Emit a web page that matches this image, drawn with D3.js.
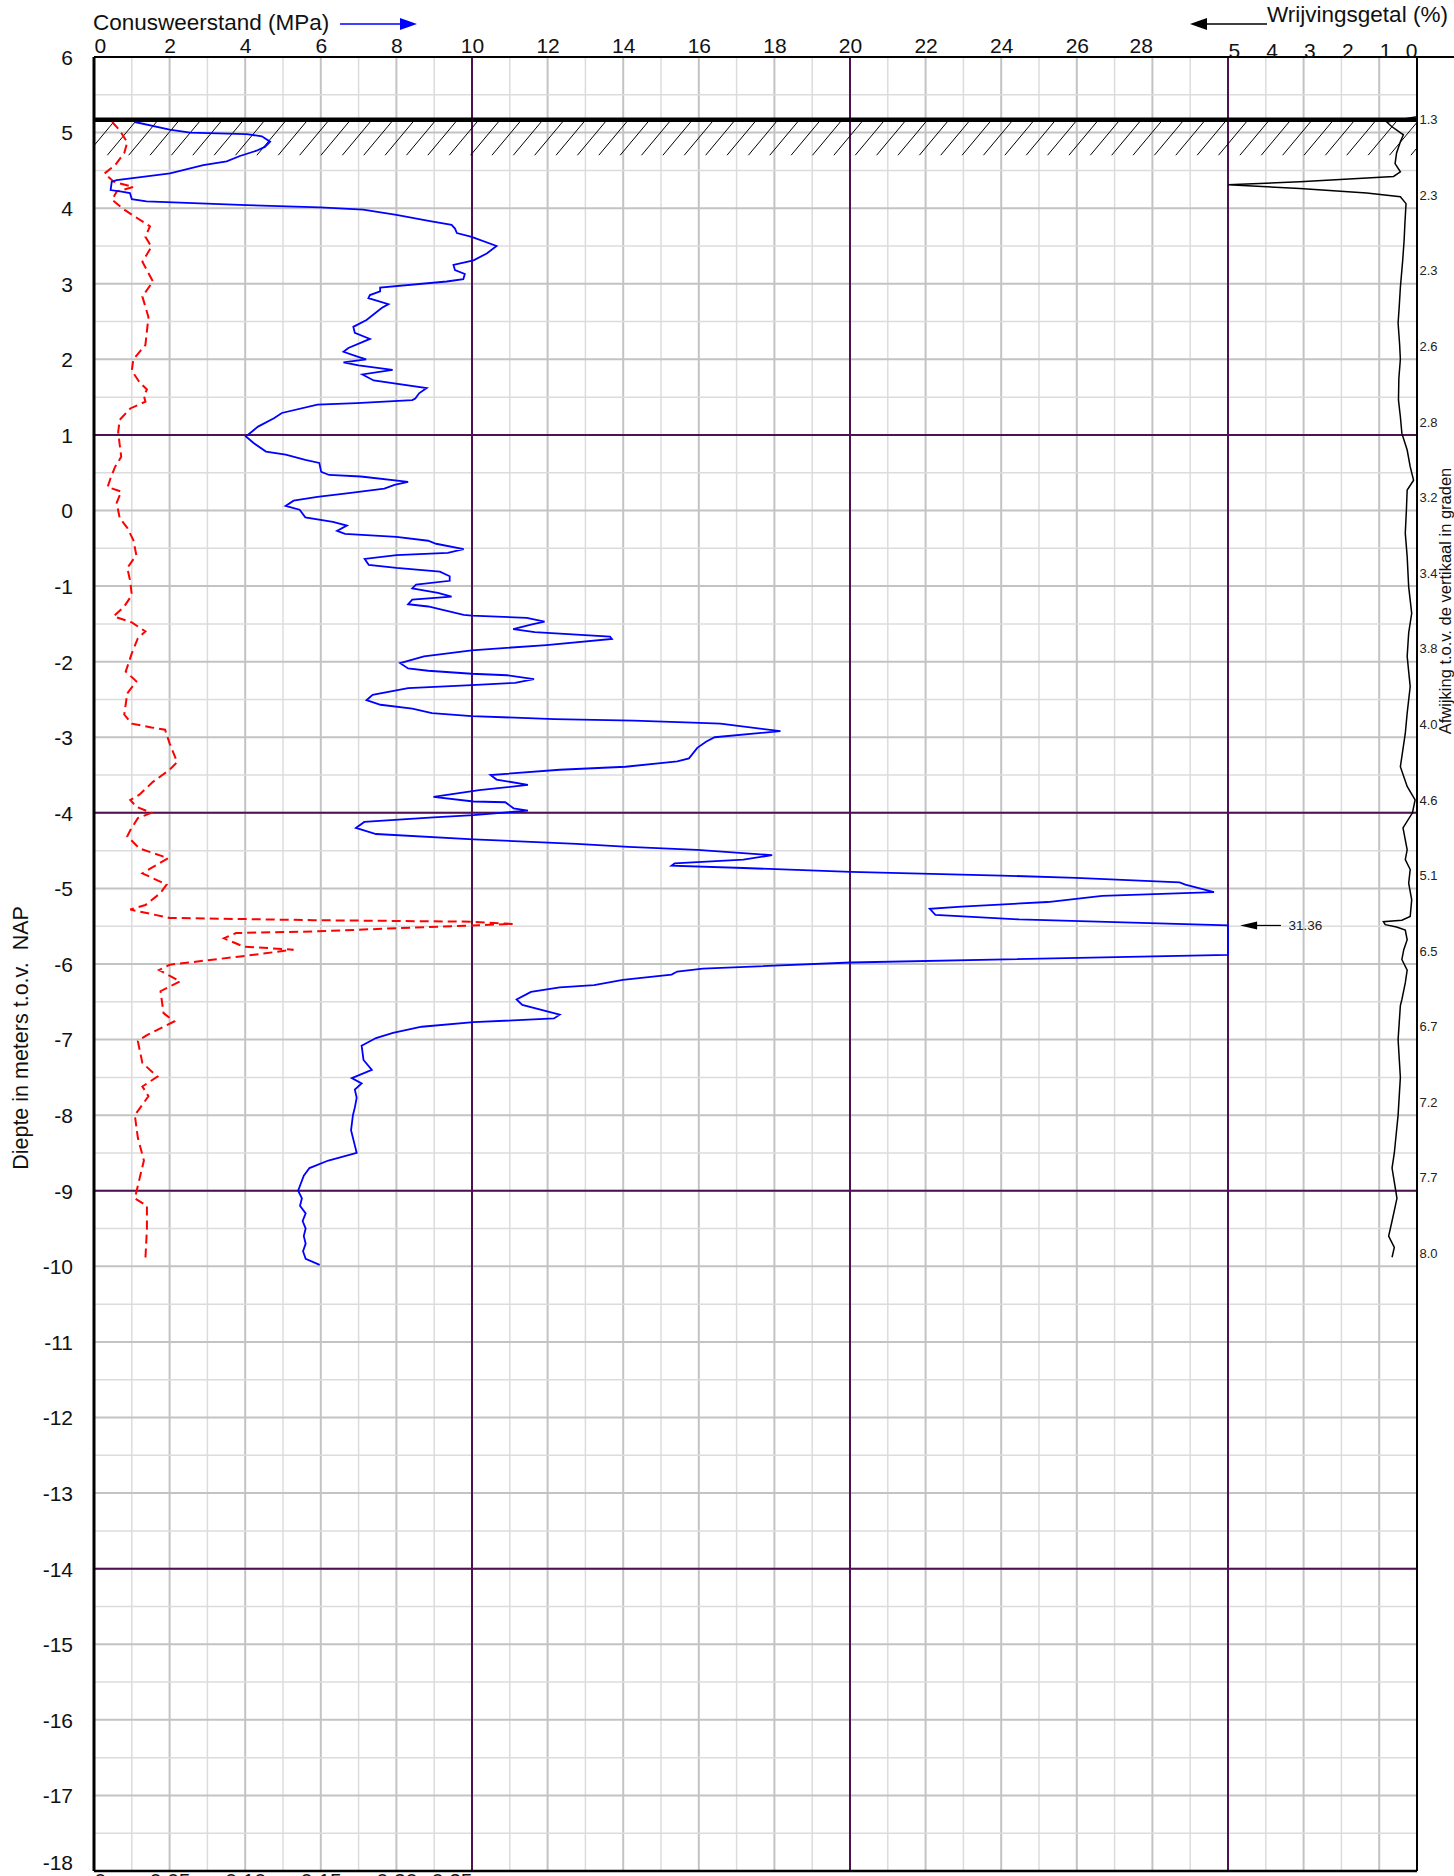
<!DOCTYPE html>
<html><head><meta charset="utf-8">
<script src="https://cdn.jsdelivr.net/npm/d3@7"></script>
<style>
body{margin:0;background:#fff}
svg{display:block;font-family:"Liberation Sans",Arial,sans-serif}
</style>
</head><body>
<svg id="chart" width="1454" height="1876"></svg>
<script>
// ---------------- data ----------------
const depthTicks = d3.range(6, -18.5, -1);
const qcTicks = [0,2,4,6,8,10,12,14,16,18,20,22,24,26,28];
const rfTicks = [5,4,3,2,1,0];
const fsTicks = [0,0.05,0.10,0.15,0.20,0.25];
const groundLevel = 5.17;
const inclination = ["1.3","2.3","2.3","2.6","2.8","3.2","3.4","3.8","4.0","4.6","5.1","6.5","6.7","7.2","7.7","8.0"];

// cone resistance qc (MPa): [depth NAP, value]
const coneResistance = [
[5.14,1.08],[5.04,2.0],[5.00,2.54],[4.98,4.04],[4.95,4.44],[4.88,4.66],[4.81,4.52],[4.76,4.30],[4.69,3.86],[4.62,3.51],[4.57,2.89],[4.46,2.01],[4.42,1.39],[4.37,0.60],[4.35,0.47],[4.24,0.44],[4.22,0.73],[4.20,0.95],[4.12,1.0],[4.09,1.39],[4.04,4.04],[4.01,5.98],[3.98,7.12],[3.91,8.0],[3.83,8.89],[3.78,9.46],[3.73,9.55],[3.67,9.6],[3.62,9.99],[3.50,10.65],[3.40,10.39],[3.31,10.04],[3.25,9.51],[3.18,9.55],[3.13,9.81],[3.06,9.77],[3.03,9.33],[2.95,7.57],[2.90,7.57],[2.85,7.30],[2.81,7.26],[2.73,7.79],[2.68,7.61],[2.52,7.21],[2.43,6.86],[2.35,6.9],[2.27,7.30],[2.15,6.73],
[2.10,6.6],[2.04,6.95],[2.0,7.2],[1.96,6.6],[1.92,7.0],[1.86,7.9],[1.80,7.1],[1.72,7.4],[1.62,8.8],[1.55,8.6],[1.48,8.5],[1.46,8.42],[1.42,6.95],[1.40,5.91],[1.29,4.97],[1.22,4.76],[1.11,4.34],[0.98,4.02],[0.89,4.23],[0.78,4.55],[0.74,5.07],[0.67,5.59],[0.63,5.96],[0.51,6.01],[0.47,6.22],[0.45,7.06],[0.38,8.31],[0.34,7.95],[0.29,7.68],[0.23,6.74],[0.18,5.91],[0.13,5.28],[0.06,5.07],[0.01,5.44],[-0.09,5.59],[-0.15,6.32],[-0.20,6.69],[-0.27,6.43],[-0.31,6.64],[-0.35,8.0],[-0.40,8.84],[-0.44,9.05],[-0.51,9.78],[-0.56,9.36],[-0.59,8.0],[-0.64,7.16],[-0.72,7.27],[-0.76,8.0],[-0.81,9.15],[-0.87,9.41],[-0.93,9.41],[-0.98,8.52],[-1.03,8.42],[-1.09,9.10],[-1.14,9.46],[-1.18,8.42],[-1.24,8.31],[-1.27,8.84],[-1.38,9.78],[-1.39,9.99],[-1.42,11.45],[-1.47,11.92],[-1.51,11.56],[-1.57,11.09],[-1.61,11.66],[-1.67,13.65],[-1.70,13.70],[-1.78,11.97],[-1.85,9.99],[-1.93,8.73],[-2.02,8.10],[-2.09,8.31],[-2.12,8.84],[-2.16,9.99],[-2.18,10.93],[-2.23,11.64],[-2.28,11.14],[-2.31,9.99],[-2.35,8.31],[-2.44,7.37],[-2.51,7.21],[-2.57,7.58],[-2.62,8.42],[-2.68,8.94],[-2.72,9.99],[-2.76,12.18],[-2.78,14.28],[-2.81,16.03],[-2.82,16.57],[-2.92,18.16],[-3.00,16.42],[-3.06,16.19],[-3.14,15.96],[-3.28,15.74],[-3.32,15.43],[-3.34,15.05],[-3.39,14.06],[-3.43,12.32],[-3.50,10.49],[-3.56,10.65],[-3.63,11.48],[-3.70,10.19],[-3.79,8.98],[-3.85,10.04],[-3.86,10.88],[-3.94,11.10],[-3.97,11.48],[-4.03,10.04],[-4.06,8.98],[-4.12,7.15],[-4.20,6.93],[-4.28,7.46],[-4.35,10.04],[-4.41,12.77],[-4.45,14.14],[-4.49,15.96],[-4.56,17.94],[-4.62,17.18],[-4.67,15.36],[-4.70,15.28],[-4.73,17.18],[-4.78,20.02],[-4.83,24.01],[-4.86,25.98],[-4.92,28.72],[-4.95,28.87],[-5.01,29.33],[-5.05,29.63],[-5.10,26.67],[-5.18,25.23],[-5.24,22.95],[-5.27,22.11],[-5.35,22.26],[-5.41,24.47],[-5.49,31.36],[-5.60,31.1],[-5.72,30.9],[-5.88,30.4],[-5.98,20.02],[-6.06,16.11],[-6.10,15.43],[-6.14,15.28],[-6.21,13.99],[-6.28,13.23],[-6.31,12.32],[-6.37,11.56],[-6.47,11.18],[-6.54,11.33],[-6.67,12.32],[-6.72,12.17],[-6.77,10.04],[-6.83,8.67],[-6.91,7.91],[-6.98,7.46],[-7.08,7.08],[-7.27,7.13],[-7.40,7.35],[-7.51,6.82],[-7.58,7.08],[-7.66,6.90],[-7.77,6.95],[-7.9,6.9],[-8.0,6.85],[-8.2,6.8],[-8.4,6.9],[-8.5,6.95],[-8.6,6.2],[-8.7,5.7],[-8.8,5.55],[-9.0,5.40],[-9.1,5.5],[-9.2,5.45],[-9.3,5.6],[-9.4,5.52],[-9.5,5.6],[-9.6,5.55],[-9.7,5.6],[-9.8,5.53],[-9.9,5.6],[-9.98,5.97]
];

// sleeve friction fs (MPa): [depth NAP, value]
const sleeveFriction = [
[5.14,0.012],[5.03,0.017],[4.87,0.022],[4.73,0.020],[4.57,0.014],[4.46,0.007],[4.35,0.013],[4.28,0.026],[4.22,0.015],[4.11,0.012],[3.98,0.020],[3.76,0.037],[3.62,0.034],[3.49,0.038],[3.29,0.032],[3.03,0.039],[2.83,0.032],[2.56,0.036],[2.19,0.034],[2.0,0.026],[1.85,0.025],[1.7,0.030],[1.6,0.035],[1.52,0.033],[1.44,0.034],[1.35,0.024],[1.20,0.017],[1.04,0.016],[0.87,0.017],[0.71,0.018],[0.58,0.014],[0.43,0.011],[0.31,0.009],[0.25,0.018],[0.10,0.015],[-0.10,0.017],[-0.23,0.022],[-0.39,0.026],[-0.59,0.028],[-0.76,0.022],[-0.94,0.024],[-1.12,0.025],[-1.27,0.020],[-1.40,0.013],[-1.48,0.025],[-1.60,0.034],[-1.69,0.029],[-1.89,0.025],[-2.13,0.021],[-2.26,0.028],[-2.42,0.022],[-2.70,0.020],[-2.82,0.025],[-2.87,0.038],[-2.90,0.047],[-3.08,0.050],[-3.33,0.055],[-3.43,0.050],[-3.59,0.039],[-3.76,0.030],[-3.83,0.024],[-3.92,0.028],[-4.00,0.038],[-4.07,0.029],[-4.23,0.024],[-4.31,0.022],[-4.47,0.030],[-4.60,0.049],[-4.80,0.032],[-4.95,0.048],[-5.06,0.044],[-5.22,0.034],[-5.28,0.024],[-5.39,0.050],[-5.42,0.145],[-5.44,0.249],[-5.47,0.277],[-5.51,0.222],[-5.57,0.145],[-5.59,0.094],[-5.66,0.086],[-5.77,0.099],[-5.81,0.132],[-5.89,0.101],[-6.01,0.050],[-6.08,0.043],[-6.23,0.057],[-6.36,0.044],[-6.65,0.046],[-6.76,0.053],[-6.94,0.035],[-7.02,0.029],[-7.31,0.032],[-7.49,0.042],[-7.62,0.032],[-7.75,0.036],[-8.0,0.027],[-8.3,0.029],[-8.6,0.033],[-9.1,0.027],[-9.2,0.035],[-9.5,0.035],[-9.9,0.034]
];

// friction ratio Rf (%): [depth NAP, value]
const frictionRatio = [
[5.21,0],[5.14,0.80],[5.08,0.67],[4.97,0.36],[4.88,0.44],[4.73,0.54],[4.59,0.58],[4.48,0.44],[4.42,0.62],[4.35,3.10],[4.31,5.0],[4.26,3.10],[4.20,1.33],[4.15,0.44],[4.06,0.29],[3.8,0.32],[3.58,0.34],[3.3,0.38],[2.95,0.44],[2.7,0.47],[2.48,0.5],[2.2,0.46],[2.0,0.44],[1.75,0.48],[1.46,0.49],[1.24,0.44],[1.02,0.40],[0.80,0.26],[0.58,0.18],[0.40,0.09],[0.27,0.26],[0.01,0.28],[-0.30,0.31],[-0.61,0.26],[-1.01,0.22],[-1.36,0.14],[-1.62,0.22],[-1.93,0.26],[-2.33,0.18],[-2.68,0.26],[-2.95,0.31],[-3.39,0.44],[-3.65,0.26],[-3.83,0.05],[-4.0,0.12],[-4.2,0.37],[-4.49,0.26],[-4.62,0.31],[-4.75,0.18],[-4.93,0.22],[-5.15,0.14],[-5.37,0.18],[-5.42,0.40],[-5.44,0.89],[-5.48,0.84],[-5.51,0.54],[-5.55,0.31],[-5.68,0.26],[-5.81,0.35],[-5.94,0.40],[-6.08,0.26],[-6.25,0.31],[-6.47,0.40],[-6.55,0.44],[-7.0,0.5],[-7.5,0.44],[-8.0,0.5],[-8.5,0.6],[-8.7,0.66],[-9.1,0.53],[-9.4,0.66],[-9.6,0.75],[-9.75,0.6],[-9.88,0.66]
];

// ---------------- layout ----------------
const L = 94, R = 1417, T = 57, B = 1871;
const svg = d3.select("#chart");
const y = d3.scaleLinear().domain([6, -18]).range([T, B]);
const xGrid = d3.scaleLinear().domain([0, 35]).range([L, R]);
const xQc = d3.scaleLinear().domain([0, 30]).range([L, xGrid(30)]).clamp(true);
const xFs = d3.scaleLinear().domain([0, 0.25]).range([L, xGrid(10)]);
const xRf = d3.scaleLinear().domain([0, 5]).range([R, xGrid(30)]).clamp(true);

const purple = "#4e1250", major = "#c3c3c3", minor = "#dcdcdc";

svg.append("defs").append("clipPath").attr("id","plot")
  .append("rect").attr("x",L).attr("y",T).attr("width",R-L).attr("height",B-T);

const grid = svg.append("g");
d3.range(0, 36).forEach(i => {
  if (i === 0 || i === 35) return;
  grid.append("line").attr("x1", xGrid(i)).attr("x2", xGrid(i)).attr("y1", T).attr("y2", B)
    .attr("stroke", i % 2 === 0 ? major : minor).attr("stroke-width", i % 2 === 0 ? 2 : 1.5);
});
d3.range(0, 49).forEach(k => {
  const d = 6 - k * 0.5;
  if (k === 0 || k === 48) return;
  const isInt = k % 2 === 0;
  grid.append("line").attr("x1", L).attr("x2", R).attr("y1", y(d)).attr("y2", y(d))
    .attr("stroke", isInt ? major : minor).attr("stroke-width", isInt ? 2 : 1.5);
});
[10, 20, 30].forEach(v => grid.append("line").attr("x1", xGrid(v)).attr("x2", xGrid(v))
  .attr("y1", T).attr("y2", B).attr("stroke", purple).attr("stroke-width", 2));
[1, -4, -9, -14].forEach(d => grid.append("line").attr("x1", L).attr("x2", R)
  .attr("y1", y(d)).attr("y2", y(d)).attr("stroke", purple).attr("stroke-width", 2));

// hatching below ground level
const hatch = svg.append("g").attr("clip-path", "url(#plot)");
const hTop = y(groundLevel) + 2, hBot = hTop + 33.5;
d3.range(-2, 64).forEach(k => {
  const bx = 107.3 + k * 21.37;
  hatch.append("line").attr("x1", bx).attr("y1", hBot).attr("x2", bx + 28).attr("y2", hTop)
    .attr("stroke", "#000").attr("stroke-width", 1);
});
svg.append("line").attr("x1", L).attr("x2", R).attr("y1", y(groundLevel)).attr("y2", y(groundLevel))
  .attr("stroke", "#000").attr("stroke-width", 4.5);

// data lines
const lines = svg.append("g").attr("clip-path", "url(#plot)");
lines.append("path").datum(sleeveFriction)
  .attr("d", d3.line().x(d => xFs(d[1])).y(d => y(d[0])))
  .attr("fill", "none").attr("stroke", "#ff0000").attr("stroke-width", 2)
  .attr("stroke-dasharray", "9,5");
lines.append("path").datum(coneResistance)
  .attr("d", d3.line().x(d => xQc(d[1])).y(d => y(d[0])))
  .attr("fill", "none").attr("stroke", "#0000ff").attr("stroke-width", 1.8);
lines.append("path").datum(frictionRatio)
  .attr("d", d3.line().x(d => xRf(d[1])).y(d => y(d[0])))
  .attr("fill", "none").attr("stroke", "#000").attr("stroke-width", 1.5);

// max qc annotation
const qcMax = d3.max(coneResistance, d => d[1]);
const firstOver = coneResistance.find(d => d[1] > 30);
const ay = y(firstOver[0]);
svg.append("line").attr("x1", xGrid(30.7)).attr("x2", xGrid(31.4)).attr("y1", ay).attr("y2", ay)
  .attr("stroke", "#000").attr("stroke-width", 1.2);
svg.append("path").attr("d", `M${xGrid(30.32)},${ay} L${xGrid(30.32)+17},${ay-4} L${xGrid(30.32)+17},${ay+4} Z`).attr("fill", "#000");
svg.append("text").attr("x", xGrid(31.6)).attr("y", ay).attr("dy", "0.33em")
  .attr("font-size", 13.5).attr("fill", "#222").text(qcMax.toFixed(2));

// inclination labels
svg.append("g").selectAll("text").data(inclination).join("text")
  .attr("x", R + 2.5).attr("y", (d, i) => y(groundLevel - i)).attr("dy", "0.35em")
  .attr("font-size", 13).attr("fill", "#222").text(d => d);

// borders
svg.append("line").attr("x1", L).attr("x2", 1454).attr("y1", T).attr("y2", T).attr("stroke", "#000").attr("stroke-width", 2);
svg.append("line").attr("x1", L).attr("x2", R).attr("y1", B).attr("y2", B).attr("stroke", "#000").attr("stroke-width", 2.5);
svg.append("line").attr("x1", L).attr("x2", L).attr("y1", T).attr("y2", B).attr("stroke", "#000").attr("stroke-width", 3);
svg.append("line").attr("x1", R).attr("x2", R).attr("y1", T).attr("y2", B).attr("stroke", "#000").attr("stroke-width", 2);

// axes
function styleAxis(g, size) {
  g.select(".domain").remove();
  g.selectAll("text").attr("font-size", size).attr("fill", "#111")
    .attr("font-family", '"Liberation Sans",Arial,sans-serif');
}
const fmtInt = d => String(d);
const axQc = svg.append("g").attr("transform", `translate(0,${T})`)
  .call(d3.axisTop(xQc).tickValues(qcTicks).tickSize(0).tickPadding(4).tickFormat(fmtInt));
styleAxis(axQc, 21);
axQc.selectAll(".tick text").attr("text-anchor", (d, i) => i === 0 ? "start" : (i === qcTicks.length - 1 ? "end" : "middle"));

const axRf = svg.append("g").attr("transform", `translate(0,${T})`)
  .call(d3.axisTop(xRf).tickValues(rfTicks).tickSize(0).tickPadding(-1).tickFormat(fmtInt));
styleAxis(axRf, 21);
axRf.selectAll(".tick text").attr("text-anchor", d => d === 0 ? "end" : "start");

const axY = svg.append("g").attr("transform", `translate(${L},0)`)
  .call(d3.axisLeft(y).tickValues(depthTicks).tickSize(0).tickPadding(21).tickFormat(fmtInt));
styleAxis(axY, 21);
axY.selectAll(".tick text").attr("dy", d => d === -18 ? "-0.05em" : "0.35em");

const axFs = svg.append("g").attr("transform", `translate(0,${B})`)
  .call(d3.axisBottom(xFs).tickValues(fsTicks).tickSize(0).tickPadding(2)
    .tickFormat(d => d === 0 ? "0" : d.toFixed(2)));
styleAxis(axFs, 21);
axFs.selectAll(".tick text").attr("text-anchor", (d, i) => i === 0 ? "start" : (i === fsTicks.length - 1 ? "end" : "middle"));

// titles
svg.append("text").attr("x", 93).attr("y", 30).attr("font-size", 22.5).attr("fill", "#111")
  .text("Conusweerstand (MPa)");
svg.append("line").attr("x1", 340).attr("x2", 402).attr("y1", 24).attr("y2", 24)
  .attr("stroke", "#0000ff").attr("stroke-width", 1.5);
svg.append("path").attr("d", "M417,24 L400,18 L400,30 Z").attr("fill", "#0000ff");

svg.append("text").attr("x", 1267).attr("y", 22).attr("font-size", 22.5).attr("fill", "#111")
  .text("Wrijvingsgetal (%)");
svg.append("line").attr("x1", 1205).attr("x2", 1267).attr("y1", 24).attr("y2", 24)
  .attr("stroke", "#000").attr("stroke-width", 1.5);
svg.append("path").attr("d", "M1190,24 L1207,18 L1207,30 Z").attr("fill", "#000");

svg.append("text").attr("transform", "translate(28,1038) rotate(-90)")
  .attr("text-anchor", "middle").attr("font-size", 21.5).attr("fill", "#111")
  .style("white-space", "pre").text("Diepte in meters t.o.v.  NAP");

svg.append("text").attr("transform", "translate(1451,601) rotate(-90)")
  .attr("text-anchor", "middle").attr("font-size", 16.5).attr("fill", "#111")
  .text("Afwijking t.o.v. de vertikaal in graden");
</script>
</body></html>
